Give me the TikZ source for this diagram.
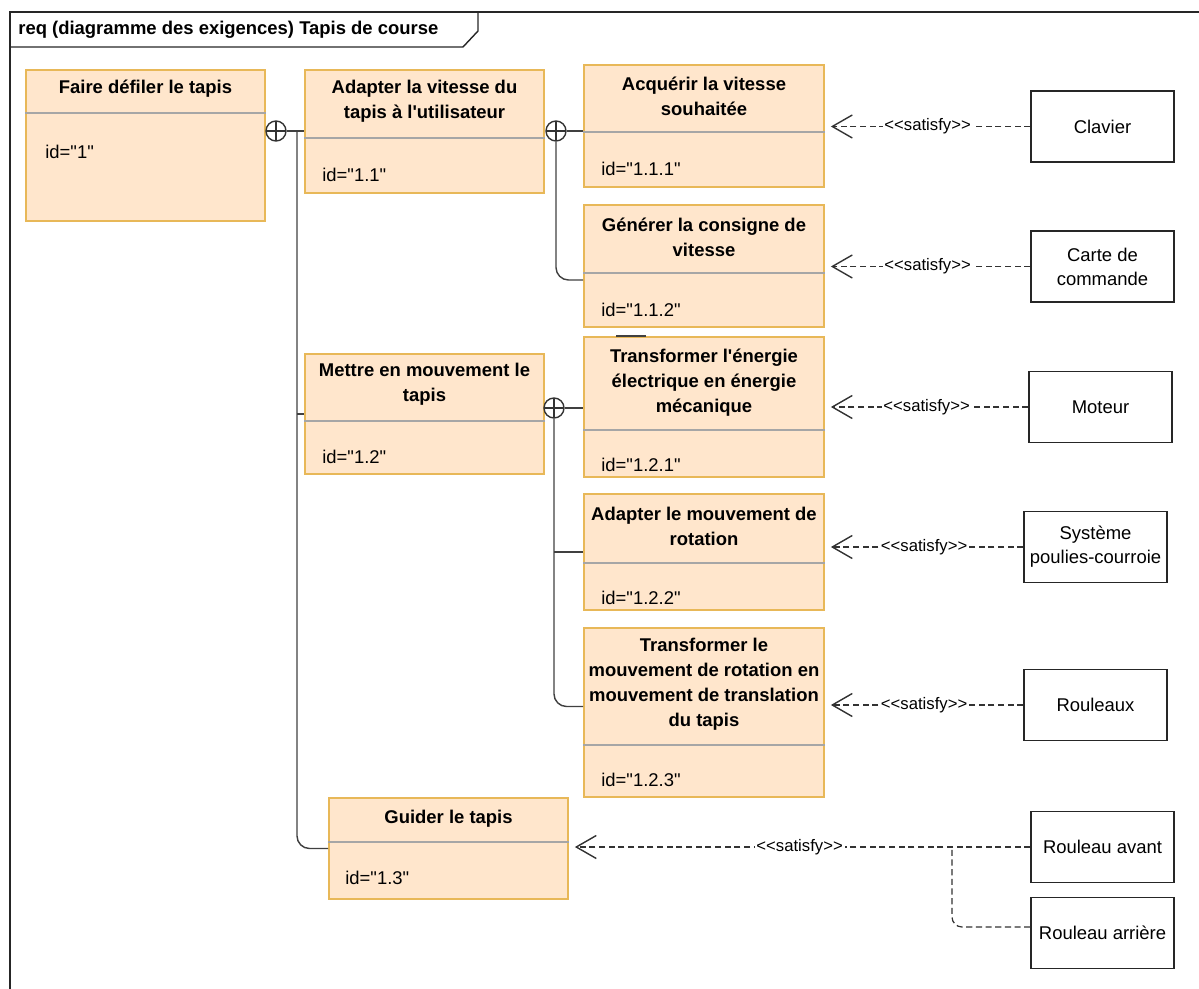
\documentclass[tikz,border=0pt]{standalone}
\usepackage{fontspec}
\newfontfamily\diagfont{Liberation Sans}
\usetikzlibrary{arrows.meta,fit,positioning}
\definecolor{reqfill}{HTML}{FFE6CC}
\definecolor{reqline}{HTML}{E8B858}
\begin{document}
\begin{tikzpicture}[x=0.02cm, y=-0.02cm,
  reqbox/.style={draw=reqline, fill=reqfill, line width=1pt, inner sep=0pt},
  reqtitle/.style={font=\diagfont\bfseries\fontsize{10.5}{14.2}\selectfont, align=center, inner sep=0pt},
  reqid/.style={font=\diagfont\fontsize{10.5}{13}\selectfont, anchor=west, inner sep=0pt},
  divider/.style={draw=black!35, line width=1pt},
  blk/.style={draw=black!85, fill=white, line width=0.8pt, inner sep=0pt, align=center, minimum width=2.86cm, minimum height=1.42cm, font=\diagfont\fontsize{10.5}{13.6}\selectfont},
  cont/.style={circle, draw=black!80, line width=0.8pt, minimum size=0.4cm, inner sep=0pt,
    path picture={\draw[black!80, line width=0.8pt] (path picture bounding box.north) -- (path picture bounding box.south) (path picture bounding box.west) -- (path picture bounding box.east);}},
  link/.style={draw=black!75, line width=0.8pt},
  satline/.style={draw=black!80, line width=0.7pt, dash pattern=on 3.5pt off 2pt},
  satisfy/.style={satline, -{Straight Barb[length=0.4cm, width=0.46cm, line width=0.8pt]}, shorten >=0.12cm},
  satlbl/.style={fill=white, font=\diagfont\fontsize{9.5}{10}\selectfont, inner sep=1pt}]
\useasboundingbox (0,0) rectangle (1199,989);
\draw[black!85, line width=0.8pt] (10,989) -- (10,12) -- (1199,12);
\draw[black!85, line width=0.8pt] (10,47) -- (463,47) -- (478,31) -- (478,12);
\node[font=\diagfont\bfseries\fontsize{10.5}{13}\selectfont, anchor=west, inner sep=0pt] (hdr) at (18,30) {req (diagramme des exigences) Tapis de course};
\node[reqbox, fit={(26,70) (265,221)}] (r1) {};
\node[reqtitle] (r1t) at (145.5,89) {Faire défiler le tapis};
\draw[divider] (r1.west |- 0,113) -- (r1.east |- 0,113);
\node[reqid] (r1i) at (45,152) {id="1"};
\node[reqbox, fit={(305,70) (544,193)}] (r11) {};
\node[reqtitle] (r11t) at (424.5,101.5) {Adapter la vitesse du\\tapis à l\textquotesingle utilisateur};
\draw[divider] (r11.west |- 0,138) -- (r11.east |- 0,138);
\node[reqid] (r11i) at (322,175) {id="1.1"};
\node[reqbox, fit={(584,65) (824,187)}] (r111) {};
\node[reqtitle] (r111t) at (704,96) {Acquérir la vitesse\\souhaitée};
\draw[divider] (r111.west |- 0,132) -- (r111.east |- 0,132);
\node[reqid] (r111i) at (601,169) {id="1.1.1"};
\node[reqbox, fit={(584,205) (824,327)}] (r112) {};
\node[reqtitle] (r112t) at (704,237) {Générer la consigne de\\vitesse};
\draw[divider] (r112.west |- 0,273) -- (r112.east |- 0,273);
\node[reqid] (r112i) at (601,310) {id="1.1.2"};
\node[reqbox, fit={(305,354) (544,474)}] (r12) {};
\node[reqtitle] (r12t) at (424.5,384.5) {Mettre en mouvement le\\tapis};
\draw[divider] (r12.west |- 0,421) -- (r12.east |- 0,421);
\node[reqid] (r12i) at (322,457) {id="1.2"};
\node[reqbox, fit={(584,337) (824,477)}] (r121) {};
\node[reqtitle] (r121t) at (704,382.5) {Transformer l\textquotesingle énergie\\électrique en énergie\\mécanique};
\draw[divider] (r121.west |- 0,430) -- (r121.east |- 0,430);
\node[reqid] (r121i) at (601,465) {id="1.2.1"};
\node[reqbox, fit={(584,494) (824,610)}] (r122) {};
\node[reqtitle] (r122t) at (704,526.5) {Adapter le mouvement de\\rotation};
\draw[divider] (r122.west |- 0,563) -- (r122.east |- 0,563);
\node[reqid] (r122i) at (601,598) {id="1.2.2"};
\node[reqbox, fit={(584,628) (824,797)}] (r123) {};
\node[reqtitle] (r123t) at (704,684.5) {Transformer le\\mouvement de rotation en\\mouvement de translation\\du tapis};
\draw[divider] (r123.west |- 0,745) -- (r123.east |- 0,745);
\node[reqid] (r123i) at (601,780) {id="1.2.3"};
\node[reqbox, fit={(329,798) (568,899)}] (r13) {};
\node[reqtitle] (r13t) at (448.5,819) {Guider le tapis};
\draw[divider] (r13.west |- 0,842) -- (r13.east |- 0,842);
\node[reqid] (r13i) at (345,878) {id="1.3"};
\draw[link, line width=1.5pt] ([xshift=0.66cm]r121.north west) -- ++(30,0);
\node[blk] (b1) at (1102.5,126.5) {Clavier};
\node[blk] (b2) at (1102.5,266.5) {Carte de\\commande};
\node[blk] (b3) at (1100.5,407) {Moteur};
\node[blk] (b4) at (1095.5,547) {Système\\poulies-courroie};
\node[blk] (b5) at (1095.5,705) {Rouleaux};
\node[blk] (b6) at (1102.5,847) {Rouleau avant};
\node[blk] (b7) at (1102.5,933) {Rouleau arrière};
\node[cont] (c1) at (276,131) {};
\node[cont] (c2) at (556,131) {};
\node[cont] (c3) at (554,408) {};
\coordinate (t1) at (297,131);
\coordinate (j1) at (952,847);
\draw[link] (c1) -- (c1 -| r11.west);
\draw[link, rounded corners=0.25cm] (t1) |- (r13.west);
\draw[link] (t1 |- r12.west) -- (r12.west);
\draw[link] (c2) -- (c2 -| r111.west);
\draw[link, rounded corners=0.25cm] (c2.south) |- ([yshift=-0.28cm]r112.west);
\draw[link] (c3) -- (c3 -| r121.west);
\draw[link, rounded corners=0.25cm] (c3.south) |- ([yshift=0.12cm]r123.west);
\draw[link] (c3 |- r122.west) -- (r122.west);
\draw[satisfy] (b1) -- node[satlbl] {<<satisfy>>} (b1 -| r111.east);
\draw[satisfy] (b2) -- node[satlbl] {<<satisfy>>} (b2 -| r112.east);
\draw[satisfy] (b3) -- node[satlbl] {<<satisfy>>} (b3 -| r121.east);
\draw[satisfy] (b4) -- node[satlbl] {<<satisfy>>} (b4 -| r122.east);
\draw[satisfy] (b5) -- node[satlbl] {<<satisfy>>} (b5 -| r123.east);
\draw[satline, rounded corners=0.2cm] ([yshift=0.12cm]b7.west) -| (j1);
\draw[satisfy] (b6) -- node[satlbl] {<<satisfy>>} (b6 -| r13.east);
\end{tikzpicture}
\end{document}
